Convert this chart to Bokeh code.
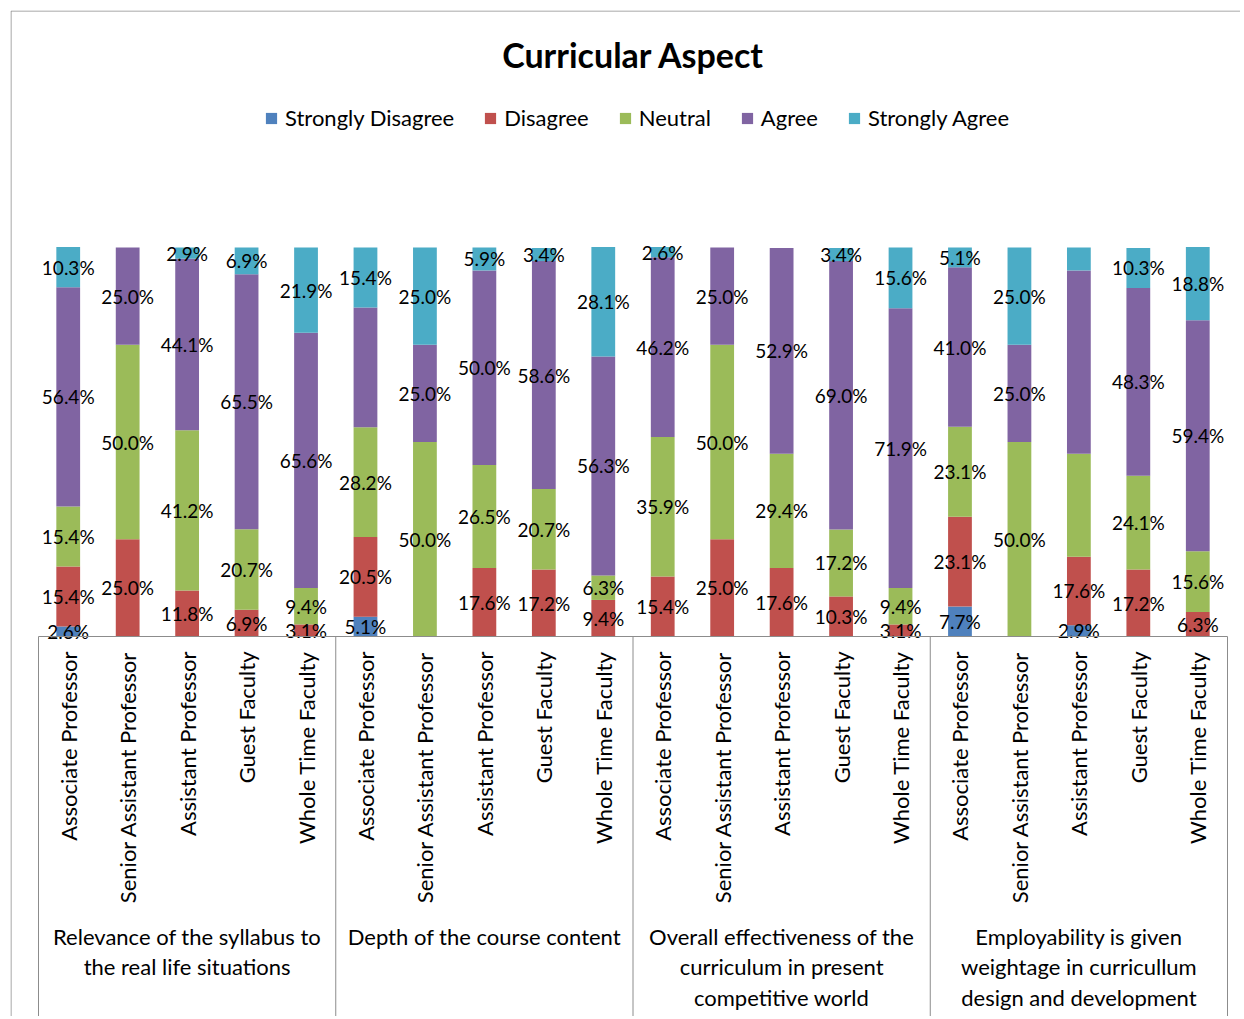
from bokeh.plotting import figure
from bokeh.models import ColumnDataSource, Range1d, Legend, LegendItem
from bokeh.core.properties import value
from bokeh.embed import file_html
from bokeh.resources import INLINE
import math

# ---------------- data ----------------
categories = ["Associate Professor", "Senior Assistant Professor", "Assistant Professor",
              "Guest Faculty", "Whole Time Faculty"]
groups = ["Relevance of the syllabus to\nthe real life situations",
          "Depth of the course content",
          "Overall effectiveness of the\ncurriculum in present\ncompetitive world",
          "Employability is given\nweightage in curricullum\ndesign and development"]
series = ["Strongly Disagree", "Disagree", "Neutral", "Agree", "Strongly Agree"]
colors = ["#4F81BD", "#C0504D", "#9BBB59", "#8064A2", "#4BACC6"]

strongly_disagree = [2.6, 0, 0, 0, 0,   5.1, 0, 0, 0, 0,   0, 0, 0, 0, 0,   7.7, 0, 2.9, 0, 0]
disagree = [15.4, 25.0, 11.8, 6.9, 3.1,   20.5, 0, 17.6, 17.2, 9.4,
            15.4, 25.0, 17.6, 10.3, 3.1,   23.1, 0, 17.6, 17.2, 6.3]
neutral = [15.4, 50.0, 41.2, 20.7, 9.4,   28.2, 50.0, 26.5, 20.7, 6.3,
           35.9, 50.0, 29.4, 17.2, 9.4,   23.1, 50.0, 26.5, 24.1, 15.6]
agree = [56.4, 25.0, 44.1, 65.5, 65.6,   30.8, 25.0, 50.0, 58.6, 56.3,
         46.2, 25.0, 52.9, 69.0, 71.9,   41.0, 25.0, 47.1, 48.3, 59.4]
strongly_agree = [10.3, 0, 2.9, 6.9, 21.9,   15.4, 25.0, 5.9, 3.4, 28.1,
                  2.6, 0, 0, 3.4, 15.6,   5.1, 25.0, 5.9, 10.3, 18.8]
# data labels that the original chart does not show: (bar index, series index)
hidden_labels = [(5, 3), (17, 2), (17, 3), (17, 4)]

values = [strongly_disagree, disagree, neutral, agree, strongly_agree]
keys = ["sd", "d", "n", "a", "sa"]
n_bars = len(categories) * len(groups)

# ---------------- layout ----------------
FONT = "Lato"
PX_X = 59.45      # pixels per category
PX_Y = 3.89       # pixels per percent
OFF = 10
FRAME_W, FRAME_H = 1230, 1006
x_start = -28 / PX_X
x_end = x_start + FRAME_W / PX_X
y_end = 626 / PX_Y
y_start = y_end - FRAME_H / PX_Y

p = figure(width=FRAME_W + OFF, height=FRAME_H + OFF, output_backend="svg", toolbar_location=None,
           x_range=Range1d(x_start, x_end), y_range=Range1d(y_start, y_end),
           min_border_left=OFF, min_border_top=OFF, min_border_right=0, min_border_bottom=0,
           x_axis_type=None, y_axis_type=None)
p.grid.visible = False
p.outline_line_color = None
p.background_fill_color = "white"
p.border_fill_color = "white"

xs = [i + 0.5 for i in range(n_bars)]
data = {"x": xs}
for k, v in zip(keys, values):
    data[k] = v
src = ColumnDataSource(data)
renderers = p.vbar_stack(keys, x="x", width=0.40, source=src, color=colors, line_color=None)

# data labels
lx, ly, lt = [], [], []
for i in range(n_bars):
    cum = 0.0
    for s, v in enumerate(values):
        val = v[i]
        if val > 0 and (i, s) not in hidden_labels:
            lx.append(xs[i])
            ly.append(cum + val / 2)
            lt.append(f"{val:.1f}%")
        cum += val
p.text(x=lx, y=ly, text=lt, text_font=value(FONT), text_font_size="19px",
       text_align="center", text_baseline="middle", text_color="black")

# axis line and group separators
grey = "#8C8C8C"
p.segment(x0=[0], y0=[0], x1=[n_bars], y1=[0], line_color=grey, line_width=1)
sep_x = [g * len(categories) for g in range(len(groups) + 1)]
p.segment(x0=sep_x, y0=[0] * len(sep_x), x1=sep_x, y1=[y_start] * len(sep_x),
          line_color=grey, line_width=1)

# category labels (rotated)
p.text(x=xs, y=[-15 / PX_Y] * n_bars, text=categories * len(groups),
       angle=math.pi / 2, text_font=value(FONT), text_font_size="22px",
       text_align="right", text_baseline="middle", text_color="black")

# group labels
gx = [g * len(categories) + len(categories) / 2 for g in range(len(groups))]
p.text(x=gx, y=[-286 / PX_Y] * len(groups), text=groups, text_font=value(FONT),
       text_font_size="22px", text_align="center", text_baseline="top",
       text_line_height=1.14, text_color="black")

# title
p.text(x=[(633 - 38) / PX_X], y=[(636 - 54) / PX_Y], text=["Curricular Aspect"],
       text_font=value(FONT), text_font_size="34px", text_font_style="bold",
       text_align="center", text_baseline="middle", text_color="black")

# outer border (left and top)
bx = x_start + 0.5 / PX_X
by = y_end - 0.5 / PX_Y
p.segment(x0=[bx, bx], y0=[y_start, by], x1=[bx, x_end], y1=[by, by],
          line_color="#8C8C8C", line_width=1)

legend = Legend(items=[LegendItem(label=s, renderers=[r]) for s, r in zip(series, renderers)],
                orientation="horizontal", location=(254, FRAME_H - 95 - 26),
                padding=0, margin=0, spacing=29, label_standoff=7,
                glyph_width=14, glyph_height=14, border_line_color=None,
                background_fill_alpha=0, label_text_font=FONT, label_text_font_size="22px",
                label_text_color="black", label_height=26)
p.add_layout(legend)

open("out.html", "w").write(file_html(p, INLINE))
